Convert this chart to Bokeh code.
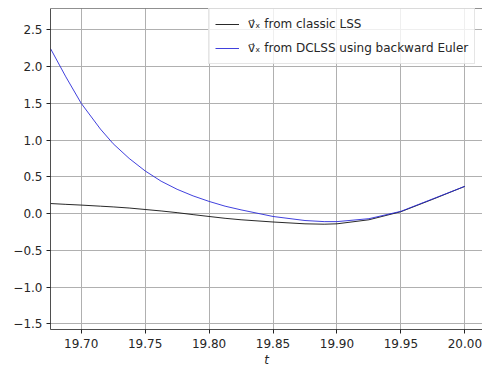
from bokeh.plotting import figure
from bokeh.models import FixedTicker, Legend, LegendItem, Range1d, Span
from bokeh.embed import file_html
from bokeh.resources import INLINE

# time samples and velocity estimates
t = [19.676, 19.688, 19.700, 19.715, 19.725, 19.7375, 19.750, 19.7625, 19.775,
     19.7875, 19.800, 19.8125, 19.825, 19.850, 19.875, 19.890, 19.900, 19.925,
     19.950, 19.975, 20.000]
vx_classic = [0.136, 0.125, 0.115, 0.10, 0.09, 0.075, 0.055, 0.035, 0.012,
              -0.015, -0.04, -0.065, -0.085, -0.115, -0.14, -0.145, -0.14,
              -0.085, 0.025, 0.195, 0.37]
vx_dclss = [2.245, 1.86, 1.50, 1.15, 0.95, 0.75, 0.58, 0.44, 0.33, 0.24, 0.165,
            0.10, 0.05, -0.04, -0.095, -0.11, -0.11, -0.07, 0.03, 0.20, 0.37]

x_ticks = [19.70, 19.75, 19.80, 19.85, 19.90, 19.95, 20.00]
y_ticks = [-1.5, -1.0, -0.5, 0.0, 0.5, 1.0, 1.5, 2.0, 2.5]

Y_TOP = 2.79

p = figure(width=482, height=369, output_backend="svg", toolbar_location=None,
           x_range=Range1d(19.676, 20.0138), y_range=Range1d(-1.578, Y_TOP),
           min_border_left=50, min_border_right=0, min_border_top=8,
           min_border_bottom=40)

FONT = "DejaVu Sans"
TXT = "#262626"
SPINE = "#222222"

p.outline_line_color = None
p.background_fill_color = "white"
p.border_fill_color = "white"

for ax in (p.xaxis[0], p.yaxis[0]):
    ax.major_tick_in = 0
    ax.major_tick_out = 4
    ax.minor_tick_out = 0
    ax.minor_tick_in = 0
    ax.axis_line_color = SPINE
    ax.axis_line_width = 0.8
    ax.major_tick_line_color = SPINE
    ax.major_label_text_font = FONT
    ax.major_label_text_font_size = "12px"
    ax.major_label_text_color = TXT

p.xaxis.ticker = FixedTicker(ticks=x_ticks)
p.yaxis.ticker = FixedTicker(ticks=y_ticks)
p.xaxis.major_label_overrides = {v: f"{v:.2f}" for v in x_ticks}
p.yaxis.major_label_overrides = {v: f"{v:.1f}".replace("-", "\u2212") for v in y_ticks}
p.xaxis.major_label_standoff = 5
p.yaxis.major_label_standoff = 4

p.xaxis.axis_label = "t"
p.xaxis.axis_label_text_font = FONT
p.xaxis.axis_label_text_font_style = "italic"
p.xaxis.axis_label_text_font_size = "12px"
p.xaxis.axis_label_text_color = TXT
p.xaxis.axis_label_standoff = 2

p.grid.grid_line_color = "#b0b0b0"
p.grid.grid_line_width = 1
p.xgrid.ticker = FixedTicker(ticks=x_ticks)
p.ygrid.ticker = FixedTicker(ticks=y_ticks)

# top spine of the axes box
p.add_layout(Span(location=Y_TOP, dimension="width", line_color=SPINE, line_width=1))

r_classic = p.line(t, vx_classic, line_color="#111111", line_width=0.9)
r_dclss = p.line(t, vx_dclss, line_color="#2b2bd9", line_width=0.9)

legend = Legend(items=[
    LegendItem(label="v\u20d7\u2093 from classic LSS", renderers=[r_classic]),
    LegendItem(label="v\u20d7\u2093 from DCLSS using backward Euler", renderers=[r_dclss]),
], location=(158, 265))
legend.label_text_font = FONT
legend.label_text_font_size = "12px"
legend.label_text_color = TXT
legend.padding = 6
legend.spacing = 6
legend.label_height = 18
legend.glyph_height = 18
legend.glyph_width = 24
legend.label_standoff = 9
legend.margin = 0
legend.border_line_color = "#cccccc"
legend.border_line_width = 1
legend.background_fill_color = "white"
legend.background_fill_alpha = 0.8
p.add_layout(legend)

open("out.html", "w").write(file_html(p, INLINE))
